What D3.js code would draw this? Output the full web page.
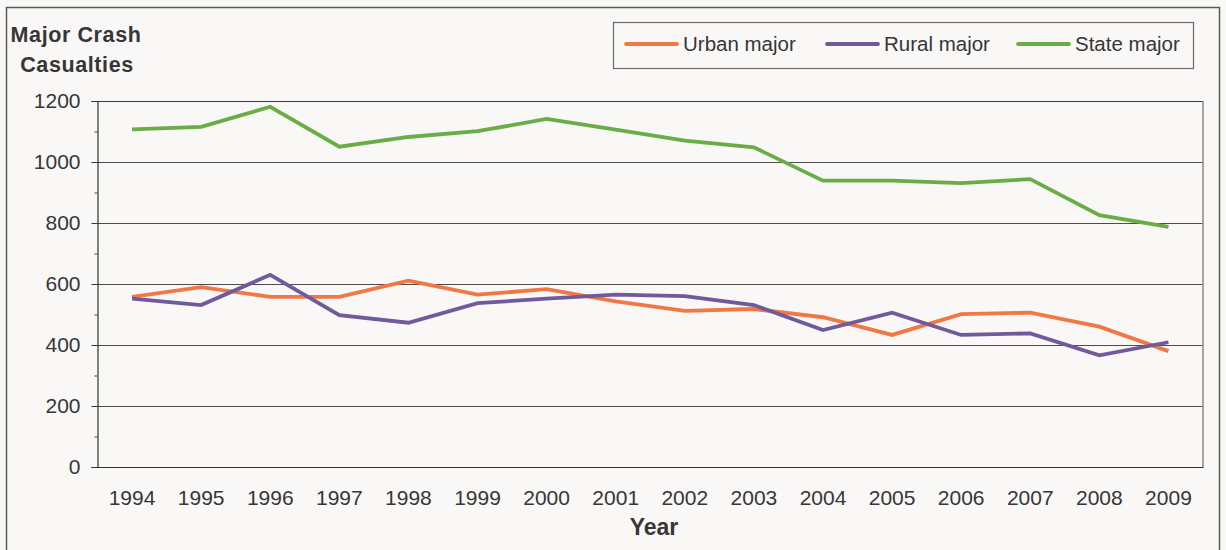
<!DOCTYPE html>
<html>
<head>
<meta charset="utf-8">
<script src="https://cdn.jsdelivr.net/npm/d3@7"></script>
<style>
  html, body { margin: 0; padding: 0; background: #f9f8f6; }
  svg { display: block; font-family: 'Liberation Sans', Arial, sans-serif; }
</style>
</head>
<body>
<div id="chart"></div>
<script>
// Дані
const years = ['1994', '1995', '1996', '1997', '1998', '1999', '2000', '2001',
  '2002', '2003', '2004', '2005', '2006', '2007', '2008', '2009']
const urbanMajor = [558, 590, 558, 558, 611, 565, 583, 543, 512, 518, 491, 433, 501, 506, 460, 380]
const ruralMajor = [552, 531, 630, 498, 473, 537, 552, 565, 560, 531, 449, 506, 433, 438, 366, 409]
const stateMajor = [1107, 1115, 1181, 1050, 1082, 1101, 1141, 1106, 1070, 1048, 939, 939, 931, 944, 826, 787]
const seriesNames = ['Urban major', 'Rural major', 'State major']
const seriesColors = ['#f07845', '#705a9b', '#6aac46']
const yTicks = [0, 200, 400, 600, 800, 1000, 1200]
const yMinorTicks = [100, 300, 500, 700, 900, 1100]

const W = 1226
const H = 550
const plot = { left: 97.5, right: 1203, top: 101, bottom: 467 }
const textColor = '#363636'

const svg = d3.select('#chart')
  .append('svg')
  .attr('width', W)
  .attr('height', H)

// Зовнішня рамка
svg.append('rect')
  .attr('x', 6.5)
  .attr('y', 7.5)
  .attr('width', 1213)
  .attr('height', 560)
  .attr('fill', '#f9f8f6')
  .attr('stroke', '#5a5a5a')
  .attr('stroke-width', 1.5)

const x = d3.scaleBand()
  .domain(years)
  .range([plot.left, plot.right])
  .padding(0)

const y = d3.scaleLinear()
  .domain([0, 1200])
  .range([plot.bottom, plot.top])

// Сітка
svg.append('g')
  .selectAll('line')
  .data(yTicks.filter(d => d > 0))
  .enter()
  .append('line')
  .attr('x1', plot.left)
  .attr('x2', plot.right)
  .attr('y1', d => Math.round(y(d)) + 0.5)
  .attr('y2', d => Math.round(y(d)) + 0.5)
  .attr('stroke', d => d === 1200 ? '#3a3a3a' : '#4d4d4d')
  .attr('stroke-width', 1)

// Права межа
svg.append('line')
  .attr('x1', plot.right)
  .attr('x2', plot.right)
  .attr('y1', y(1200))
  .attr('y2', plot.bottom)
  .attr('stroke', '#8a8a8a')
  .attr('stroke-width', 1.5)

// Вісь Y
const yAxis = svg.append('g')
  .attr('transform', `translate(${plot.left},0)`)
  .call(d3.axisLeft(y).tickValues(yTicks).tickSize(6).tickPadding(11).tickFormat(d3.format('d')))
yAxis.select('.domain').attr('stroke', '#333').attr('stroke-width', 1.2)
yAxis.selectAll('.tick line').attr('stroke', '#333')
yAxis.selectAll('.tick text')
  .attr('fill', textColor)
  .style('font-size', '21px')
  .style('font-family', "'Liberation Sans', Arial, sans-serif")

svg.append('g')
  .attr('transform', `translate(${plot.left},0)`)
  .call(d3.axisLeft(y).tickValues(yMinorTicks).tickSize(3).tickFormat(''))
  .call(g => g.select('.domain').remove())
  .selectAll('.tick line').attr('stroke', '#444')

// Вісь X
const xAxis = svg.append('g')
  .attr('transform', `translate(0,${plot.bottom})`)
  .call(d3.axisBottom(x).tickSize(0).tickPadding(23))
xAxis.select('.domain').attr('stroke', '#333').attr('stroke-width', 1.2)
xAxis.selectAll('.tick text')
  .attr('fill', textColor)
  .style('font-size', '21px')
  .style('font-family', "'Liberation Sans', Arial, sans-serif")

// Лінії серій
const line = d3.line()
  .x((d, i) => x(years[i]) + x.bandwidth() / 2)
  .y(d => y(d))

const allSeries = [urbanMajor, ruralMajor, stateMajor]
svg.append('g')
  .selectAll('path')
  .data(allSeries)
  .enter()
  .append('path')
  .attr('d', d => line(d))
  .attr('fill', 'none')
  .attr('stroke', (d, i) => seriesColors[i])
  .attr('stroke-width', 3.8)
  .attr('stroke-linejoin', 'miter')

// Заголовок осі Y
const yTitle = svg.append('text')
  .attr('fill', textColor)
  .attr('text-anchor', 'middle')
  .style('font-size', '21.5px')
  .style('font-weight', 'bold')
  .style('letter-spacing', '0.6px')
yTitle.append('tspan').attr('x', 76).attr('y', 42).text('Major Crash')
yTitle.append('tspan').attr('x', 77).attr('y', 72).text('Casualties')

// Заголовок осі X
svg.append('text')
  .attr('x', 654)
  .attr('y', 535)
  .attr('fill', textColor)
  .attr('text-anchor', 'middle')
  .style('font-size', '23px')
  .style('font-weight', 'bold')
  .text('Year')

// Легенда
svg.append('rect')
  .attr('x', 613.5)
  .attr('y', 22.5)
  .attr('width', 580)
  .attr('height', 46)
  .attr('fill', '#f9f8f6')
  .attr('stroke', '#6a6a6a')
  .attr('stroke-width', 1.2)

const legendX = [626, 827, 1018]
seriesNames.forEach((name, i) => {
  const row = svg.append('g')
    .attr('transform', `translate(${legendX[i]}, 44)`)
  row.append('line')
    .attr('x1', 0)
    .attr('x2', 51)
    .attr('stroke', seriesColors[i])
    .attr('stroke-width', 3.8)
    .attr('stroke-linecap', 'round')
  row.append('text')
    .attr('x', 57)
    .attr('y', 7)
    .attr('fill', textColor)
    .style('font-size', '20.5px')
    .text(name)
})
</script>
</body>
</html>
